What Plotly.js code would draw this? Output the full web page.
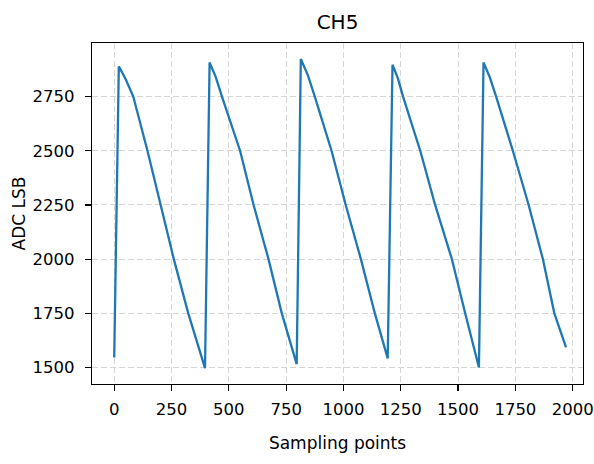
<!DOCTYPE html>
<html>
<head>
<meta charset="utf-8">
<script src="https://cdn.plot.ly/plotly-3.0.1.min.js"></script>
<style>html,body{margin:0;padding:0;background:#fff;}#chart{width:594px;height:464px;}</style>
</head>
<body>
<div id="chart"></div>
<script>
// Key points (sampling index, ADC value)
const samplePoints = [0, 20, 50, 83, 145, 204, 260, 323, 396, 416, 443, 470, 549, 608, 673, 731, 796, 814, 845, 875, 948, 1010, 1076, 1137, 1193, 1214, 1237, 1260, 1335, 1400, 1473, 1531, 1591, 1611, 1638, 1666, 1739, 1808, 1870, 1920, 1971];
const adcValues = [1546, 2889, 2830, 2750, 2500, 2250, 2000, 1750, 1497, 2907, 2840, 2750, 2500, 2250, 2000, 1750, 1516, 2923, 2848, 2750, 2500, 2250, 2000, 1750, 1542, 2897, 2835, 2750, 2500, 2250, 2000, 1750, 1500, 2907, 2840, 2750, 2500, 2250, 2000, 1750, 1593];
const xTicks = [0, 250, 500, 750, 1000, 1250, 1500, 1750, 2000];
const yTicks = [1500, 1750, 2000, 2250, 2500, 2750];

const FONT = '"DejaVu Sans", sans-serif';

const trace = {
  x: samplePoints,
  y: adcValues,
  type: 'scatter',
  mode: 'lines',
  line: {color: '#1f77b4', width: 2.3},
  hoverinfo: 'skip'
};

const axisCommon = {
  showline: true,
  linecolor: '#000',
  linewidth: 1.3,
  mirror: true,
  ticks: 'outside',
  ticklen: 6,
  tickwidth: 1.2,
  tickcolor: '#000',
  showgrid: true,
  gridcolor: '#d6d6d6',
  gridwidth: 1,
  griddash: '6px,3px',
  zeroline: false,
  tickfont: {family: FONT, size: 16.5, color: '#000'}
};

const layout = {
  width: 594,
  height: 464,
  paper_bgcolor: '#fff',
  plot_bgcolor: '#fff',
  showlegend: false,
  margin: {l: 92, r: 11, t: 43, b: 80},
  title: {
    text: 'CH5',
    font: {family: FONT, size: 20, color: '#000'},
    x: 0.5, xref: 'paper',
    y: 1, yref: 'container', yanchor: 'top', pad: {t: 15}
  },
  xaxis: Object.assign({}, axisCommon, {
    range: [-97, 2045],
    tickmode: 'array',
    tickvals: xTicks,
    ticktext: xTicks.map(String),
    ticklabelstandoff: 4,
    title: {text: 'Sampling points', font: {family: FONT, size: 17, color: '#000'}, standoff: 19}
  }),
  yaxis: Object.assign({}, axisCommon, {
    range: [1424, 2997],
    tickmode: 'array',
    tickvals: yTicks,
    ticktext: yTicks.map(String),
    ticklabelstandoff: 7,
    title: {text: 'ADC LSB', font: {family: FONT, size: 17, color: '#000'}, standoff: 2}
  })
};

Plotly.newPlot('chart', [trace], layout, {displayModeBar: false, staticPlot: true});
</script>
</body>
</html>
